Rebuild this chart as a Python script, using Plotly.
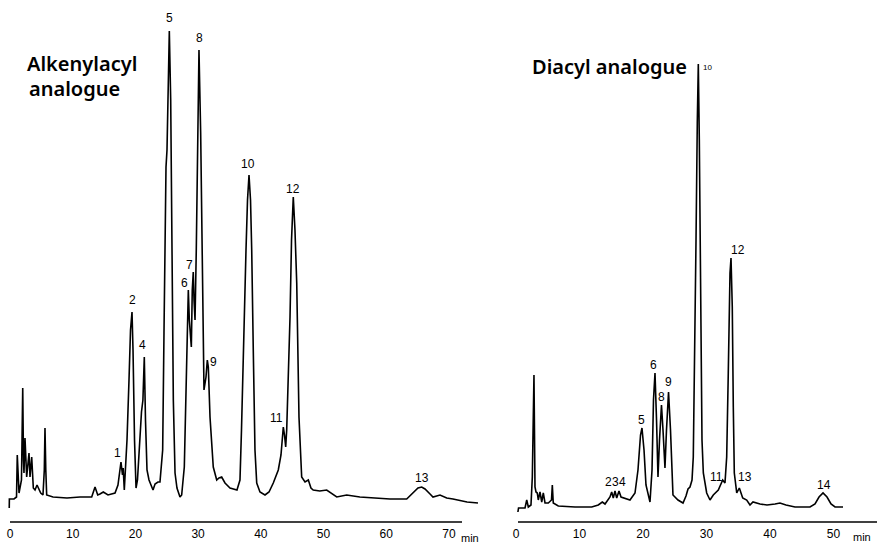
import plotly.graph_objects as go

# ---------------- data (retention time in min, detector signal in arbitrary units) -------------
t_alk = [-0.12, -0.10, 0.64, 1.04, 1.16,
         1.32, 1.44, 1.83, 2.03, 2.15,
         2.23, 2.39, 2.66, 3.03, 3.19,
         3.46, 3.72, 3.99, 4.31, 4.90,
         5.26, 5.47, 5.58, 5.71, 5.85,
         6.86, 9.09, 11.16, 13.03, 13.56,
         13.99, 14.35, 14.88, 15.63, 16.75,
         17.22, 17.70, 17.94, 18.05, 18.23,
         18.66, 18.98, 19.22, 19.46, 19.62,
         19.86, 20.10, 20.33, 20.65, 20.97,
         21.20, 21.42, 21.61, 21.85, 22.17,
         22.81, 23.13, 23.60, 23.92, 24.35,
         24.56, 24.88, 25.04, 25.25, 25.41,
         25.63, 25.79, 26.05, 26.32, 26.63,
         27.11, 27.38, 27.80, 28.07, 28.30,
         28.44, 28.60, 28.82, 28.92, 29.07,
         29.23, 29.35, 29.51, 29.71, 29.90,
         30.14, 30.41, 30.57, 30.73, 30.94,
         31.26, 31.37, 31.47, 31.63, 31.90,
         32.42, 32.97, 33.33, 33.76, 34.29,
         35.09, 36.20, 36.68, 36.92, 37.21,
         37.64, 37.88, 38.12, 38.36, 38.55,
         38.80, 39.07, 39.35, 39.87, 40.67,
         41.31, 41.99, 42.79, 43.22, 43.59,
         43.78, 43.97, 44.13, 44.34, 44.66,
         44.90, 45.18, 45.45, 45.73, 46.09,
         46.52, 47.05, 47.58, 48.00, 48.36,
         49.40, 50.51, 52.11, 53.70, 55.80,
         57.90, 60.60, 63.27, 64.32, 65.07,
         65.66, 66.19, 66.99, 67.46, 68.58,
         69.65, 70.65, 72.89, 74.64]
s_alk = [14, 23, 23, 25, 67,
         32, 29, 42, 134, 62,
         49, 84, 45, 69, 45,
         65, 34, 32, 37, 29,
         27, 52, 94, 52, 27,
         25, 24, 25, 25, 35,
         27, 28, 30, 27, 29,
         37, 60, 47, 54, 32,
         82, 142, 192, 210, 172,
         82, 34, 42, 77, 110,
         122, 165, 102, 52, 42,
         32, 38, 40, 40, 72,
         189, 355, 372, 442, 491,
         422, 289, 122, 49, 34,
         25, 27, 55, 122, 192,
         232, 202, 185, 175, 232,
         250, 222, 202, 272, 372,
         472, 389, 289, 189, 132,
         145, 157, 162, 155, 105,
         55, 42, 44, 45, 39,
         34, 32, 42, 92, 172,
         272, 322, 347, 322, 272,
         172, 72, 39, 30, 27,
         30, 39, 52, 67, 95,
         87, 75, 92, 132, 205,
         282, 325, 292, 239, 105,
         45, 40, 42, 34, 32,
         31, 32, 25, 27, 25,
         24, 23, 23, 30, 34,
         35, 33, 28, 25, 27,
         24, 23, 20, 19]

t_dia = [0.30, 0.40, 1.42, 1.69, 1.94,
         2.36, 2.57, 2.83, 2.99, 3.15,
         3.35, 3.51, 3.78, 4.05, 4.30,
         4.57, 5.09, 5.59, 5.72, 5.87,
         6.66, 9.29, 11.92, 12.96, 13.59,
         14.02, 14.80, 15.07, 15.32, 15.59,
         15.86, 16.22, 16.54, 17.95, 18.74,
         19.21, 19.61, 19.84, 20.16, 20.47,
         21.10, 21.42, 21.65, 21.89, 22.13,
         22.36, 22.60, 22.91, 23.15, 23.46,
         23.70, 24.02, 24.33, 24.72, 25.51,
         26.30, 26.77, 27.09, 27.40, 27.72,
         27.92, 28.19, 28.35, 28.55, 28.71,
         28.87, 29.09, 29.29, 29.50, 30.03,
         30.55, 31.07, 31.86, 32.55, 32.91,
         33.18, 33.43, 33.70, 33.86, 34.06,
         34.22, 34.38, 34.76, 35.17, 35.70,
         36.33, 36.85, 37.32, 38.43, 39.53,
         40.79, 41.57, 42.52, 43.94, 46.30,
         47.09, 47.72, 48.35, 48.98, 49.61,
         50.24, 51.50]
s_dia = [10, 14, 14, 22, 15,
         17, 45, 147, 35, 30,
         29, 22, 30, 20, 29,
         19, 19, 22, 37, 19,
         16, 15, 15, 17, 20,
         18, 25, 30, 24, 31,
         24, 31, 25, 22, 29,
         52, 87, 94, 72, 37,
         20, 52, 122, 149, 102,
         45, 82, 117, 92, 54,
         92, 130, 92, 27, 22,
         19, 26, 33, 35, 42,
         65, 182, 282, 399, 458,
         382, 215, 82, 49, 29,
         22, 27, 32, 42, 39,
         65, 149, 249, 264, 215,
         115, 49, 29, 34, 24,
         22, 17, 20, 18, 17,
         18, 19, 17, 15, 15,
         18, 25, 29, 25, 18,
         15, 15]

# peak labels: text, time (min), signal position
lab_alk_text = ["1", "2", "4", "5", "6", "7", "8", "9", "10", "11", "12", "13"]
lab_alk_t = [17.2, 19.46, 21.2, 25.36, 27.83, 28.7, 30.3, 32.4, 37.96, 42.58, 45.14, 65.7]
lab_alk_s = [69, 222, 177, 504, 239, 257, 484, 160, 358, 104, 333, 44]

lab_dia_text = ["2", "3", "4", "5", "6", "8", "9", "10", "11", "12", "13", "14"]
lab_dia_t = [14.5, 15.6, 16.7, 19.84, 21.73, 22.99, 24.09, 30.08, 31.65, 34.96, 36.06, 48.5]
lab_dia_s = [40, 40, 40, 102, 157, 125, 140, 455, 45, 272, 45, 37]

ticks_alk = [0, 10, 20, 30, 40, 50, 60, 70]
ticks_dia = [0, 10, 20, 30, 40, 50]

assert len(t_alk) == len(s_alk)
assert len(t_dia) == len(s_dia)

W, H = 877, 543
FONT = "Liberation Sans"
BASE_PX = 522  # pixel row of the time axis line

fig = go.Figure()
fig.add_trace(go.Scatter(x=t_alk, y=s_alk, mode="lines", xaxis="x", yaxis="y",
                         line=dict(color="black", width=1.6), hoverinfo="skip"))
fig.add_trace(go.Scatter(x=t_dia, y=s_dia, mode="lines", xaxis="x2", yaxis="y2",
                         line=dict(color="black", width=1.6), hoverinfo="skip"))

ydom = [(H - BASE_PX) / H, 1]
axis_common = dict(showgrid=False, zeroline=False, showline=False, automargin=False,
                   ticks="", ticklabelstandoff=3,
                   tickfont=dict(family=FONT, size=12, color="black"), fixedrange=True)
fig.update_layout(
    width=W, height=H, template="none",
    paper_bgcolor="white", plot_bgcolor="rgba(0,0,0,0)",
    margin=dict(l=0, r=0, t=0, b=0), showlegend=False,
    xaxis=dict(domain=[0, 488 / W], range=[-10 / 6.27, 478 / 6.27], anchor="y",
               tickvals=ticks_alk, **axis_common),
    xaxis2=dict(domain=[505 / W, 1], range=[-11 / 6.35, 361 / 6.35], anchor="y2",
                tickvals=ticks_dia, **axis_common),
    yaxis=dict(domain=ydom, range=[0, BASE_PX], visible=False, fixedrange=True),
    yaxis2=dict(domain=ydom, range=[0, BASE_PX], visible=False, fixedrange=True, anchor="x2"),
)

# time-axis lines
yline = (H - BASE_PX) / H
fig.add_shape(type="line", xref="paper", yref="paper", x0=10 / W, x1=462 / W, y0=yline, y1=yline,
              line=dict(color="black", width=1.6))
fig.add_shape(type="line", xref="paper", yref="paper", x0=518 / W, x1=1, y0=yline, y1=yline,
              line=dict(color="black", width=1.6))

ann = []
for txt, t, s in zip(lab_alk_text, lab_alk_t, lab_alk_s):
    ann.append(dict(x=t, y=s, xref="x", yref="y", text=txt, showarrow=False,
                    font=dict(family=FONT, size=12, color="black")))
for txt, t, s in zip(lab_dia_text, lab_dia_t, lab_dia_s):
    ann.append(dict(x=t, y=s, xref="x2", yref="y2", text=txt, showarrow=False,
                    font=dict(family=FONT, size=8 if txt == "10" else 12, color="black")))

title_font = dict(family="Noto Sans", size=20, color="black", weight=600)
ann += [
    dict(x=25 / W, y=1 - 63 / H, xref="paper", yref="paper", text="Alkenylacyl",
         xanchor="left", yanchor="middle", showarrow=False, font=title_font),
    dict(x=27 / W, y=1 - 88 / H, xref="paper", yref="paper", text="analogue",
         xanchor="left", yanchor="middle", showarrow=False, font=title_font),
    dict(x=530 / W, y=1 - 66 / H, xref="paper", yref="paper", text="Diacyl analogue",
         xanchor="left", yanchor="middle", showarrow=False, font=title_font),
    dict(x=470 / W, y=1 - 538 / H, xref="paper", yref="paper", text="min",
         xanchor="center", yanchor="middle", showarrow=False,
         font=dict(family=FONT, size=11, color="black")),
    dict(x=862 / W, y=1 - 537 / H, xref="paper", yref="paper", text="min",
         xanchor="center", yanchor="middle", showarrow=False,
         font=dict(family=FONT, size=11, color="black")),
]
fig.update_layout(annotations=ann)

fig.write_html("out.html", config={"displayModeBar": False},
               post_script="document.body.style.margin='0';")
